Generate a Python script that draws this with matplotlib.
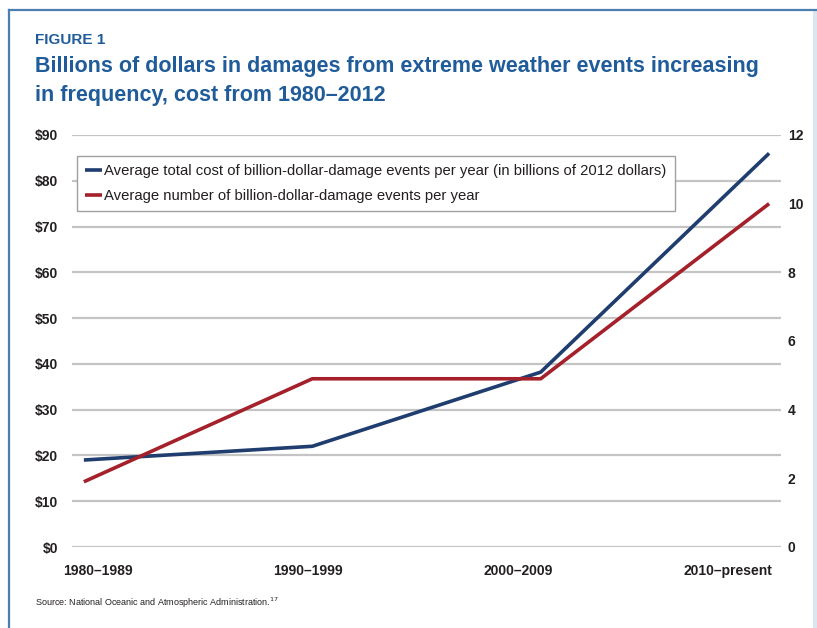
import matplotlib.pyplot as plt
from matplotlib.lines import Line2D
from matplotlib.patches import Rectangle

# data
periods = ['1980\u20131989', '1990\u20131999', '2000\u20132009', '2010\u2013present']
avg_cost = [19, 22, 38.2, 86]          # billions of 2012 dollars
avg_events = [1.9, 4.9, 4.9, 10]        # events per year
cost_ticks = [0, 10, 20, 30, 40, 50, 60, 70, 80, 90]
event_ticks = [0, 2, 4, 6, 8, 10, 12]

blue = '#1f3d6e'
red = '#a4202a'
title_col = '#1f5c99'
txt = '#231f20'

plt.rcParams['font.family'] = ['Liberation Sans', 'DejaVu Sans']

fig = plt.figure(figsize=(8.17, 6.28), dpi=100)

# page frame
fig.add_artist(Line2D([9/817, 1], [1 - 10/628, 1 - 10/628], color='#4a7fb0', lw=1.6))
fig.add_artist(Line2D([9/817, 9/817], [0, 1 - 10/628], color='#4a7fb0', lw=1.6))
fig.add_artist(Rectangle((813/817, 0), 4/817, 1 - 11/628, color='#dde6f0', lw=0))

fig.text(35/817, 1 - 40/628, 'FIGURE 1', color=title_col, fontsize=11,
         fontweight='bold', va='center')
fig.text(35/817, 1 - 81/628,
         'Billions of dollars in damages from extreme weather events increasing\nin frequency, cost from 1980\u20132012',
         color=title_col, fontsize=15.5, fontweight='bold', va='center', linespacing=1.45)
fig.text(35/817, 1 - 603/628, 'Source: National Oceanic and Atmospheric Administration.$^{17}$',
         color=txt, fontsize=6.5, va='center')

ax = fig.add_axes([72/817, 1 - 547/628, (781 - 72)/817, (547 - 135)/628])
x = list(range(len(periods)))

for v in cost_ticks:
    ax.axhline(v, color='#c4c4c4', lw=1.6, zorder=0)

l1, = ax.plot(x, avg_cost, color=blue, lw=2.6, solid_capstyle='butt', zorder=3)
ax.set_ylim(0, 90)
ax.set_xlim(-0.052, 3.052)
ax.set_yticks(cost_ticks)
ax.set_yticklabels(['$%d' % v for v in cost_ticks])
# category labels sit a little inward of the line vertices
ax.set_xticks([i * 0.92 + 0.06 for i in x])
ax.set_xticklabels(periods)
ax.tick_params(axis='both', length=0, labelsize=10, labelcolor=txt)
ax.tick_params(axis='y', pad=10)
ax.tick_params(axis='x', pad=12)
for lab in ax.get_xticklabels() + ax.get_yticklabels():
    lab.set_fontweight('bold')
for s in ax.spines.values():
    s.set_visible(False)

ax2 = ax.twinx()
l2, = ax2.plot(x, avg_events, color=red, lw=2.6, solid_capstyle='butt', zorder=3)
ax2.set_ylim(0, 12)
ax2.set_yticks(event_ticks)
ax2.tick_params(axis='y', length=0, labelsize=10, labelcolor=txt, pad=5)
for lab in ax2.get_yticklabels():
    lab.set_fontweight('bold')
for s in ax2.spines.values():
    s.set_visible(False)

leg = ax2.legend([l1, l2],
                 ['Average total cost of billion-dollar-damage events per year (in billions of 2012 dollars)',
                  'Average number of billion-dollar-damage events per year'],
                 loc='upper left', bbox_to_anchor=(5/709, 1 - 21/412), borderaxespad=0,
                 fontsize=10.7, handlelength=1.1, handletextpad=0.2, borderpad=0.55,
                 labelspacing=0.75, fancybox=False, edgecolor='#a0a0a0', framealpha=1)
leg.get_frame().set_linewidth(1.0)
for t in leg.get_texts():
    t.set_color(txt)

plt.savefig('out.png', dpi=100)
